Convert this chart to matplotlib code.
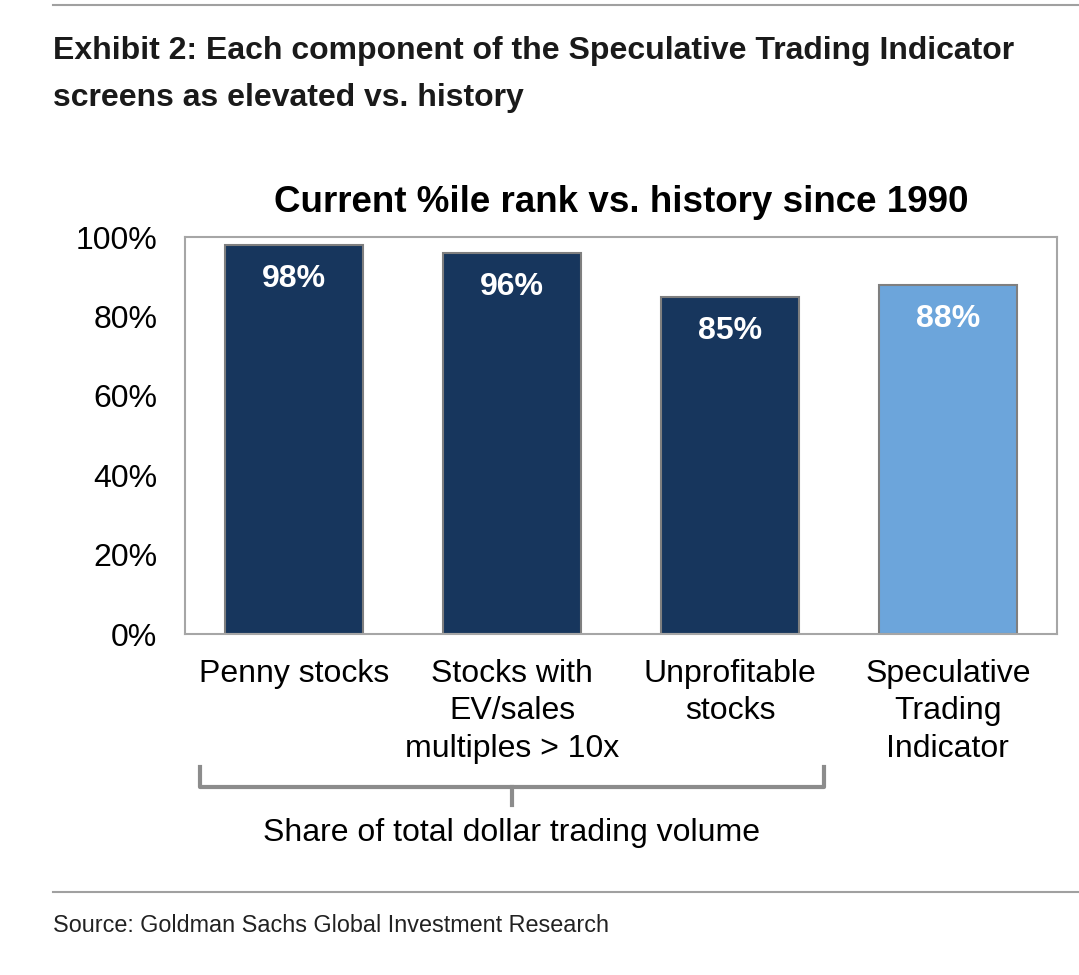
import matplotlib
matplotlib.use("Agg")
import matplotlib.pyplot as plt
import matplotlib.transforms as mtransforms

categories = ["Penny stocks", "Stocks with\nEV/sales\nmultiples > 10x",
              "Unprofitable\nstocks", "Speculative\nTrading\nIndicator"]
values = [98, 96, 85, 88]
bar_colors = ["#17365D", "#17365D", "#17365D", "#6CA5DB"]
y_ticks = [0, 20, 40, 60, 80, 100]

title = "Exhibit 2: Each component of the Speculative Trading Indicator\nscreens as elevated vs. history"
subtitle = "Current %ile rank vs. history since 1990"
group_label = "Share of total dollar trading volume"
source = "Source: Goldman Sachs Global Investment Research"

body = "Liberation Sans"

fig = plt.figure(figsize=(10.79, 9.75), dpi=100)
ax = fig.add_axes([0.1715, 0.3497, 0.808, 0.4072])

x = list(range(len(categories)))
ax.bar(x, values, width=0.63, color=bar_colors, edgecolor="#7F7F7F", linewidth=1.5, zorder=2)
for xi, v in zip(x, values):
    ax.text(xi, v - 8.6, f"{v}%", ha="center", va="center", color="white",
            fontsize=23, fontweight="bold", family=body)

ax.set_xlim(-0.5, 3.5)
ax.set_ylim(0, 100)
ax.set_yticks(y_ticks)
ax.set_yticklabels([f"{t}%" for t in y_ticks], fontsize=23, family=body)
ax.set_xticks(x)
ax.set_xticklabels(categories, fontsize=23, family=body, linespacing=1.32, va="top")
ax.tick_params(axis="y", length=0, pad=20)
ax.tick_params(axis="x", length=0, pad=18)
for s in ax.spines.values():
    s.set_color("#A6A6A6")
    s.set_linewidth(1.5)

ax.set_title(subtitle, fontsize=26.5, fontweight="bold", family=body, pad=18)

# bracket under first three categories
tr = mtransforms.blended_transform_factory(ax.transData, ax.transAxes)
ax.plot([-0.43, -0.43, 2.43, 2.43], [-0.335, -0.385, -0.385, -0.335],
        color="#8C8C8C", lw=3, transform=tr, clip_on=False, solid_joinstyle="round")
ax.plot([1.0, 1.0], [-0.385, -0.43], color="#8C8C8C", lw=3, transform=tr, clip_on=False)
ax.text(1.0, -0.502, group_label, transform=tr, ha="center", va="center",
        fontsize=23, family=body)

# header and footer
fig.add_artist(plt.Line2D([0.049, 1.0], [0.9949, 0.9949], color="#A0A0A0", lw=1.5))
fig.text(0.049, 0.963, title, ha="left", va="top", fontsize=23, fontweight="bold",
         family=body, linespacing=1.74, color="#1A1A1A")
fig.add_artist(plt.Line2D([0.049, 1.0], [0.0851, 0.0851], color="#A0A0A0", lw=1.5))
fig.text(0.049, 0.051, source, ha="left", va="center", fontsize=16.8, family=body,
         color="#222222")

fig.savefig("out.png", dpi=100)
